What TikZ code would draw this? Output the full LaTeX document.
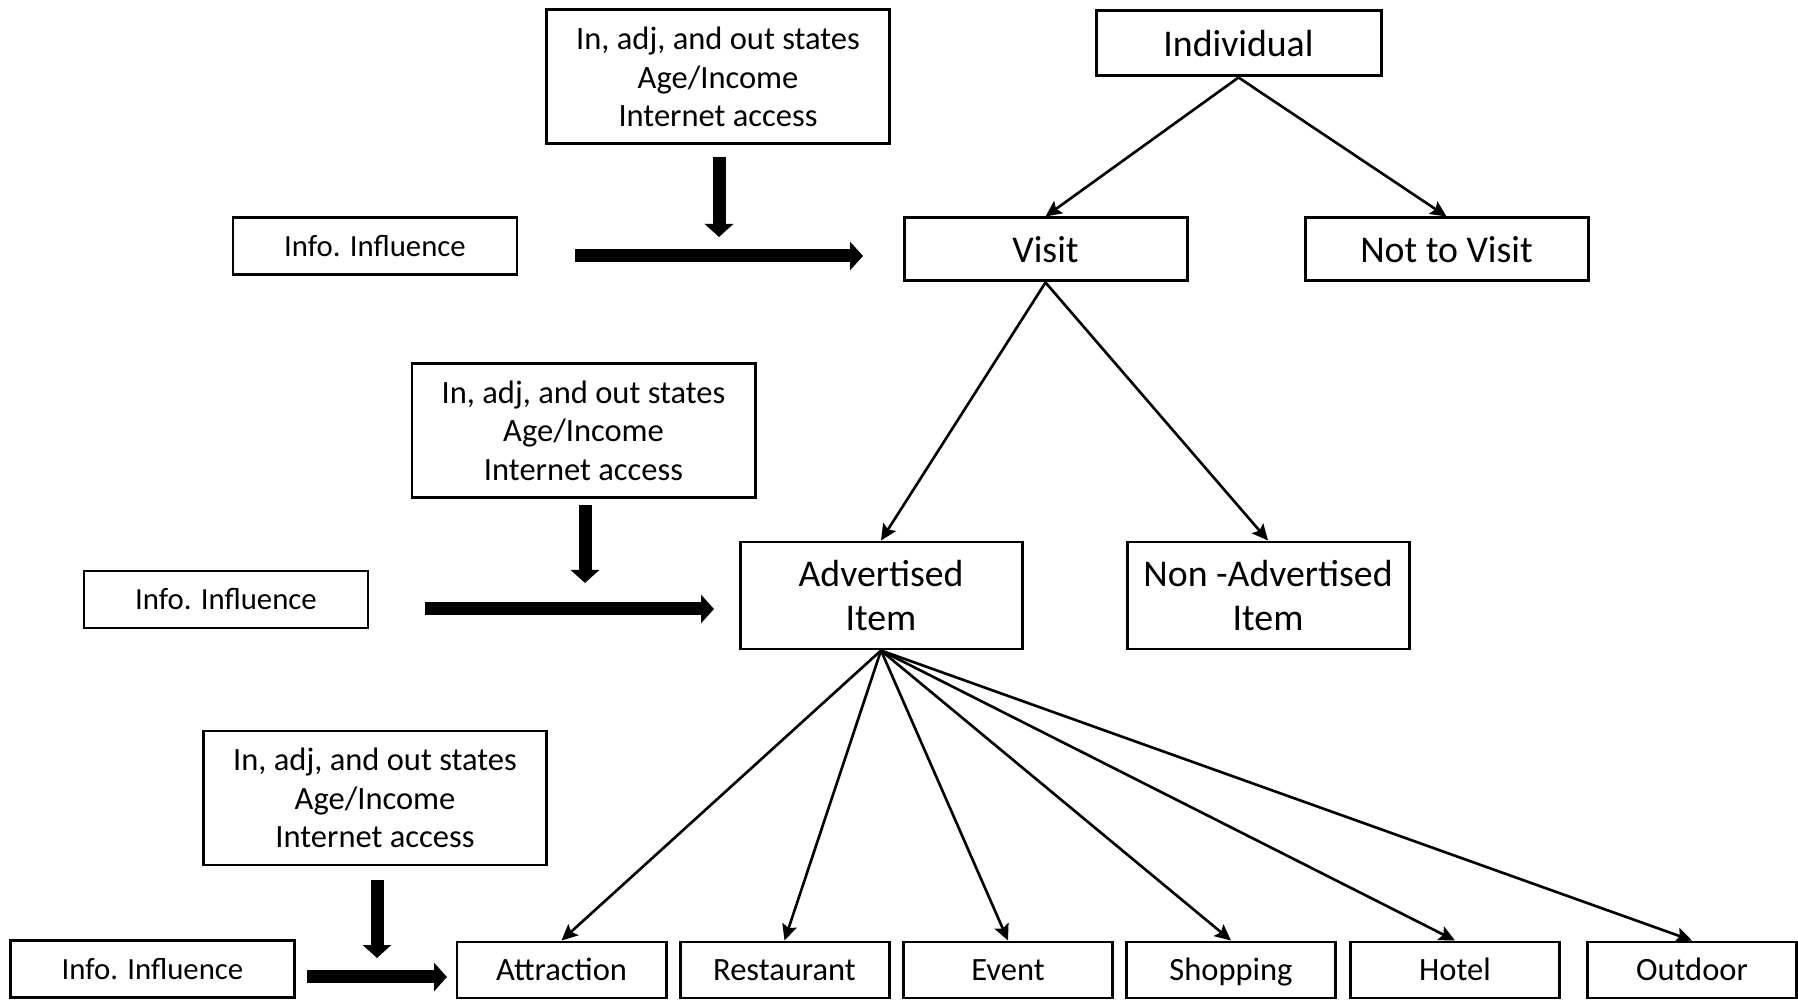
\documentclass[tikz,border=0pt]{standalone}
\usepackage{fontspec}
\setmainfont{Carlito}
\usepackage{tikz}
\usetikzlibrary{arrows.meta, positioning}

\tikzset{
  box/.style={draw, line width=1.7pt, align=center, inner sep=0pt},
  small/.style={font=\fontsize{18.5pt}{22pt}\selectfont},
  big/.style={font=\fontsize{21.5pt}{24.5pt}\selectfont},
  attrbox/.style={box, small, minimum width=6.86cm, minimum height=2.68cm},
  infobox/.style={box, font=\fontsize{17.5pt}{22pt}\selectfont, minimum width=5.68cm, minimum height=1.14cm},
  catbox/.style={box, small, text height=12.5pt, text depth=0pt, minimum width=4.18cm, minimum height=1.12cm},
  thin/.style={line width=1.5pt, -{Stealth[length=0.32cm, width=0.3cm, inset=0.06cm]}},
  fat/.style={line width=0.26cm, -{Triangle[length=0.26cm, width=0.56cm]}}
}

\begin{document}
\begin{tikzpicture}
\useasboundingbox (0,0) rectangle (35.96,20);

% decision tree
\node[box, big, minimum width=5.7cm, minimum height=1.3cm] (indiv) at (24.77,19.13) {Individual};
\node[box, big, minimum width=5.66cm, minimum height=1.26cm] (visit) at (20.91,15.01) {Visit};
\node[box, big, minimum width=5.66cm, minimum height=1.26cm] (novisit) at (28.93,15.01) {Not to Visit};
\node[box, big, minimum width=5.64cm, minimum height=2.14cm] (adv) at (17.62,8.09) {Advertised\\Item};
\node[box, big, minimum width=5.64cm, minimum height=2.14cm] (nonadv) at (25.36,8.09) {Non -Advertised\\Item};

\node[catbox] (attraction) at (11.23,0.60) {Attraction};
\node[catbox] (restaurant) at (15.69,0.60) {Restaurant};
\node[catbox] (event) at (20.16,0.60) {Event};
\node[catbox] (shopping) at (24.62,0.60) {Shopping};
\node[catbox] (hotel) at (29.10,0.60) {Hotel};
\node[catbox] (outdoor) at (33.84,0.60) {Outdoor};

\draw[thin] (indiv.south) -- (visit.north);
\draw[thin] (indiv.south) -- (novisit.north);
\draw[thin] (visit.south) -- (adv.north);
\draw[thin] (visit.south) -- (nonadv.north);
\foreach \c in {attraction,restaurant,event,shopping,hotel,outdoor}
  \draw[thin] (adv.south) -- (\c.north);

% factors
\node[attrbox] (attrA) at (14.36,18.46) {In, adj, and out states\\Age/Income\\Internet access};
\node[attrbox] (attrB) at (11.67,11.39) {In, adj, and out states\\Age/Income\\Internet access};
\node[attrbox] (attrC) at (7.50,4.04) {In, adj, and out states\\Age/Income\\Internet access};

\node[infobox] (infoA) at (7.50,15.07) {Info. Influence};
\node[infobox] (infoB) at (4.52,8.01) {Info. Influence};
\node[infobox] (infoC) at (3.05,0.62) {Info. Influence};

\coordinate (hA1) at (11.50,14.88);
\coordinate (hA2) at (17.26,14.88);
\coordinate (vA1) at (14.38,16.86);
\coordinate (vA2) at (14.38,15.26);
\coordinate (hB1) at (8.50,7.82);
\coordinate (hB2) at (14.28,7.82);
\coordinate (vB1) at (11.70,9.90);
\coordinate (vB2) at (11.70,8.34);
\coordinate (hC1) at (6.14,0.46);
\coordinate (hC2) at (8.94,0.46);
\coordinate (vC1) at (7.54,2.40);
\coordinate (vC2) at (7.54,0.84);

\draw[fat] (hA1) -- (hA2);
\draw[fat] (vA1) -- (vA2);
\draw[fat] (hB1) -- (hB2);
\draw[fat] (vB1) -- (vB2);
\draw[fat] (hC1) -- (hC2);
\draw[fat] (vC1) -- (vC2);
\end{tikzpicture}
\end{document}
